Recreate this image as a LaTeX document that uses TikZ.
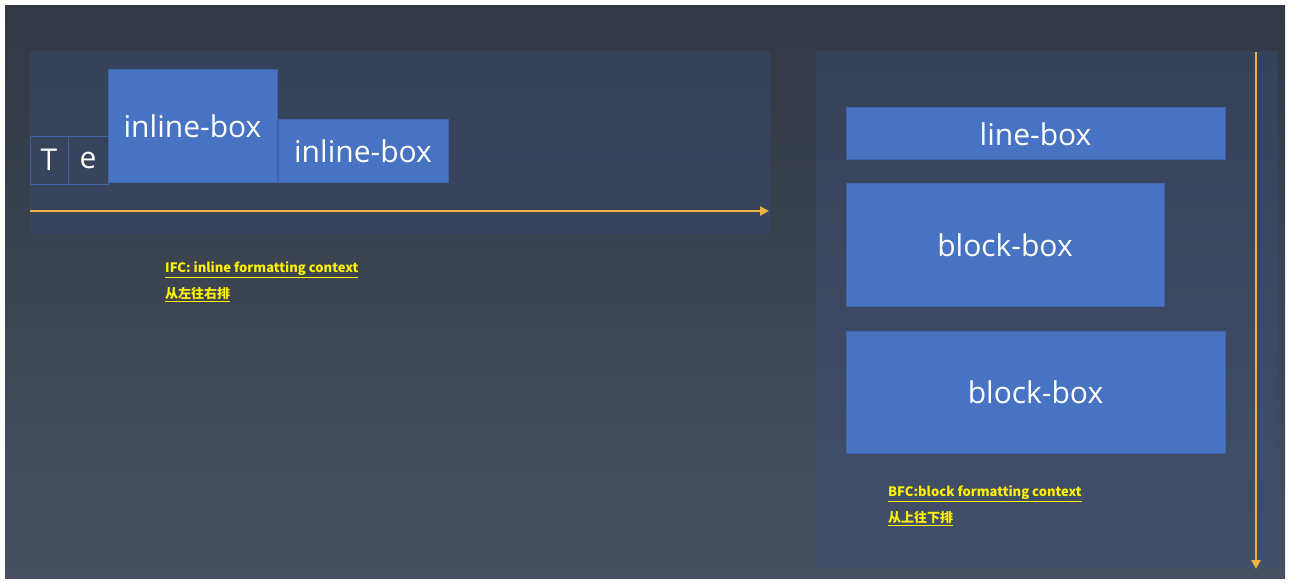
\documentclass[tikz,border=0pt]{standalone}
\usepackage{fontspec}
\setmainfont{Open Sans}
\newfontfamily\cjk{Noto Sans CJK SC}
\usetikzlibrary{arrows.meta}
\definecolor{bgtop}{HTML}{323844}
\definecolor{bgbot}{HTML}{46505F}
\definecolor{pantop}{HTML}{36415A}
\definecolor{panbot}{HTML}{424F68}
\definecolor{boxfill}{HTML}{4872C2}
\definecolor{boxline}{HTML}{3E64AC}
\definecolor{arrowgold}{HTML}{EEB43C}
\begin{document}
\begin{tikzpicture}[x=1pt,y=-1pt,
  mybox/.style={rectangle, draw=boxline, fill=boxfill, line width=1pt, inner sep=0pt, text=white, font=\fontsize{30}{30}\selectfont},
  mychar/.style={rectangle, draw=boxline, line width=0.8pt, inner sep=0pt, minimum width=38pt, minimum height=48pt, text=white, font=\fontsize{30}{30}\selectfont},
  mylabel/.style={anchor=west, inner sep=0pt, text=yellow, font=\cjk\bfseries\fontsize{13}{13}\selectfont},
  myarrow/.style={draw=arrowgold, line width=2.5pt, -{Triangle[length=9pt,width=9pt]}}]
  \useasboundingbox (0,0) rectangle (1291,583);
  \fill[white] (0,0) rectangle (1291,583);
  \shade[top color=bgtop, bottom color=bgbot] (5,6) rectangle (1285,578);
  \shade[top color=pantop, bottom color=pantop!80!panbot] (30,52) rectangle (770,233);
  \shade[top color=pantop, bottom color=panbot] (816,52) rectangle (1278,568);

  % inline formatting context
  \node[mychar] (t) at (49,160) {T};
  \node[mychar, minimum width=40pt] (e) at (88,160) {e};
  \node[mybox, minimum width=169pt, minimum height=113pt] (ib1) at (192.5,126.5) {inline-box};
  \node[mybox, minimum width=170pt, minimum height=63pt] (ib2) at (363,151.5) {inline-box};

  \coordinate (h1) at (30,211);
  \coordinate (h2) at (769,211);
  \draw[myarrow] (h1) -- (h2);

  \node[mylabel] (ifc) at (165,270) {\underline{IFC: inline formatting context}};
  \node[mylabel] (ifczh) at (165,295) {\underline{从左往右排}};

  % block formatting context
  \node[mybox, minimum width=379pt, minimum height=52pt] (lb) at (1035.5,134) {line-box};
  \node[mybox, minimum width=318pt, minimum height=122pt] (bb1) at (1005,245) {block-box};
  \node[mybox, minimum width=379pt, minimum height=122pt] (bb2) at (1035.5,392) {block-box};

  \coordinate (v1) at (1256,52);
  \coordinate (v2) at (1256,569);
  \draw[myarrow] (v1) -- (v2);

  \node[mylabel] (bfc) at (888,494) {\underline{BFC:block formatting context}};
  \node[mylabel] (bfczh) at (888,519) {\underline{从上往下排}};

\end{tikzpicture}
\end{document}
